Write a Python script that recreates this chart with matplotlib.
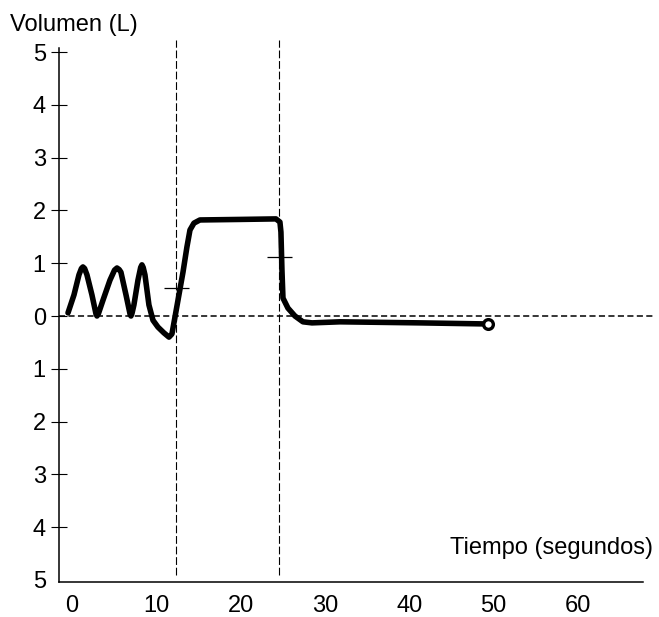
import numpy as np
import matplotlib
matplotlib.use('Agg')
import matplotlib.pyplot as plt

plt.rcParams['font.family'] = ['Liberation Sans', 'DejaVu Sans']

# curva de volumen (segundos, litros)
tiempo = [-0.47, 0.24, 0.83, 1.12, 1.30, 1.50, 1.78, 2.37, 2.85, 2.97, 3.15, 3.68,
          4.51, 5.05, 5.34, 5.60, 5.81, 6.41, 6.90, 7.00, 7.12, 7.35, 7.83, 8.15,
          8.30, 8.45, 8.66, 9.13, 9.61, 10.20, 10.91, 11.51, 11.86,
          12.22, 12.69, 13.17, 13.64, 14.00, 14.47, 15.18, 19.93, 24.20, 24.67,
          24.79, 24.91, 25.03, 25.62, 26.45, 27.40, 28.47, 31.79, 41.28, 48.99]
volumen = [0.06, 0.40, 0.78, 0.90, 0.93, 0.90, 0.78, 0.40, 0.04, 0.00, 0.05, 0.30,
           0.68, 0.87, 0.91, 0.88, 0.83, 0.40, 0.03, 0.00, 0.05, 0.21, 0.68, 0.92,
           0.97, 0.92, 0.78, 0.21, -0.08, -0.21, -0.32, -0.40, -0.34,
           -0.02, 0.40, 0.83, 1.31, 1.63, 1.76, 1.82, 1.83, 1.84, 1.78,
           1.59, 0.87, 0.34, 0.15, 0.00, -0.11, -0.13, -0.11, -0.13, -0.15]

fin_t = [49.35]
fin_v = [-0.15]

lineas_t = [12.34, 24.56]
marcas_v = [0.53, 1.12]

yticks = [5, 4, 3, 2, 1, 0, -1, -2, -3, -4, -5]
xticks = [0, 10, 20, 30, 40, 50, 60]

fig = plt.figure(figsize=(6.59, 6.17), dpi=100)
ax = fig.add_axes([0.0895, 0.0567, 0.9044, 0.8785])
ax.set_xlim(-1.54, 69.16)
ax.set_ylim(-5.04, 5.23)

# linea de cero y lineas verticales
ax.axhline(0, color='black', lw=1.1, ls=(0, (4, 2.2)))
ax.vlines(lineas_t, -4.9, 5.23, color='black', lw=0.8, ls=(0, (7, 2.5)))
ax.plot(lineas_t, marcas_v, ls='none', marker='_', ms=18, mew=0.9, color='black')

ax.plot(tiempo, volumen, color='black', lw=4.0, solid_joinstyle='round',
        solid_capstyle='round')
ax.plot(fin_t, fin_v, ls='none', marker='o', ms=7, mew=2.4, mfc='white', mec='black')

for s in ['top', 'right']:
    ax.spines[s].set_visible(False)
ax.spines['left'].set_bounds(-5.04, 5.08)
ax.spines['bottom'].set_bounds(-1.54, 67.7)
ax.spines['left'].set_linewidth(1.1)
ax.spines['bottom'].set_linewidth(1.1)

ax.set_yticks(yticks)
ax.set_yticklabels([str(abs(v)) for v in yticks])
ax.tick_params(axis='y', direction='inout', length=11, width=0.8, pad=4, labelsize=17)
ax.yaxis.get_major_ticks()[-1].tick1line.set_visible(False)
ax.set_xticks(xticks)
ax.tick_params(axis='x', length=0, pad=9, labelsize=17)

fig.text(0.015, 0.959, 'Volumen (L)', fontsize=17, va='center', ha='left')
ax.text(0.996, 0.062, 'Tiempo (segundos)', transform=ax.transAxes, fontsize=17,
        ha='right', va='center')

plt.savefig('out.png', dpi=100)
